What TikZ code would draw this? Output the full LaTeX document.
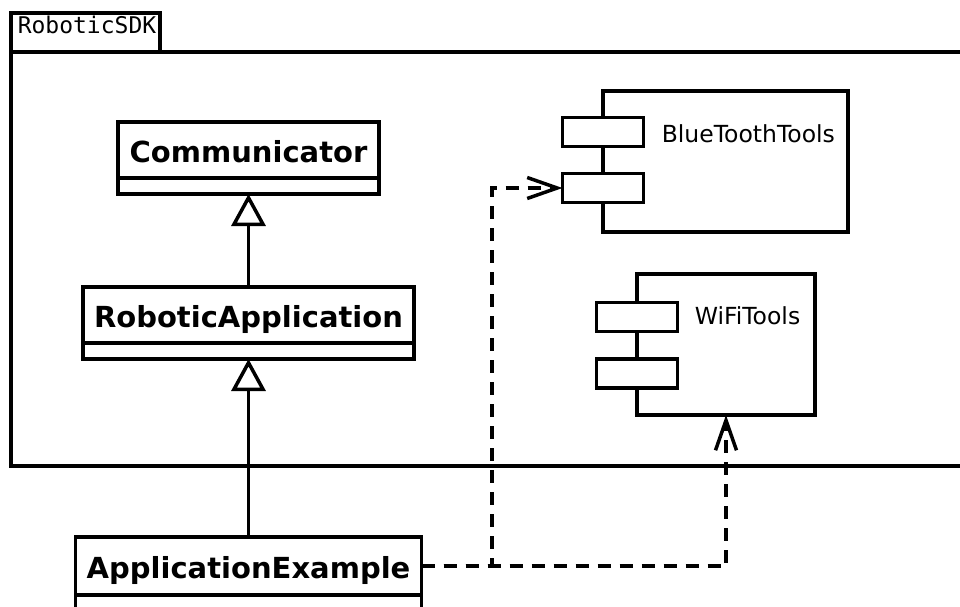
\documentclass[tikz,border=0pt]{standalone}
\usepackage{fontspec}
\usetikzlibrary{arrows.meta,positioning}
\newfontfamily\umlsans{DejaVu Sans}
\newfontfamily\umlmono{DejaVu Sans Mono}

\begin{document}
\begin{tikzpicture}[x=1pt,y=-1pt,line width=3.5pt,line join=miter,
    classhead/.style={draw,fill=white,outer sep=0pt,inner sep=0pt,minimum height=56pt,
      text height=24pt,text depth=0pt,font=\umlsans\bfseries\fontsize{29}{34}\selectfont},
    classbody/.style={draw,fill=white,outer sep=0pt,inner sep=0pt,minimum height=16pt},
    comp/.style={draw,fill=white,outer sep=0pt,inner sep=0pt,minimum height=141pt},
    port/.style={draw,fill=white,outer sep=0pt,inner sep=0pt,minimum width=81pt,minimum height=29pt},
    complabel/.style={anchor=base west,inner sep=0pt,font=\umlsans\fontsize{23.5}{27}\selectfont},
    inherit/.style={-{Triangle[open,length=32pt,width=34pt]}},
    dep/.style={dash pattern=on 13pt off 9pt,-{Straight Barb[length=30pt,width=21pt]}}]
	\useasboundingbox (0,0) rectangle (960,606);
	\clip (0,0) rectangle (960,606);
	% package frame with its tab
	\draw (11,52) rectangle (980,466);
	\draw (11,13) rectangle (160,52);
	\node[anchor=base west,inner sep=0pt,font=\umlmono\fontsize{23}{26}\selectfont] (sdk) at (16,33) {RoboticSDK};
	% components
	\node[comp,minimum width=245pt] (bt) at (725.5,161.5) {};
	\node[port] (btup) at ([yshift=29.5pt]bt.west) {};
	\node[port] (btlow) at ([yshift=-26.5pt]bt.west) {};
	\node[complabel] (btlabel) at ([xshift=57pt,yshift=-51pt]bt.north west) {BlueToothTools};
	\node[comp,minimum width=178pt] (wifi) at (726,344.5) {};
	\node[port] (wifiup) at ([yshift=27.5pt]wifi.west) {};
	\node[port] (wifilow) at ([yshift=-29pt]wifi.west) {};
	\node[complabel] (wifilabel) at ([xshift=56pt,yshift=-50pt]wifi.north west) {WiFiTools};
	% classes
	\node[classhead,minimum width=261pt] (comm) at (248.5,150) {Communicator};
	\node[classbody,minimum width=261pt,below=0pt of comm] (commbody) {};
	\node[classhead,minimum width=331pt] (robapp) at (248.5,315) {RoboticApplication};
	\node[classbody,minimum width=331pt,below=0pt of robapp] (robappbody) {};
	\node[classhead,minimum width=346pt,minimum height=58pt] (appex) at (248.5,566) {ApplicationExample};
	\node[classbody,minimum width=346pt,minimum height=30pt,below=0pt of appex] (appexbody) {};
	% generalizations
	\draw[inherit] (robapp.north) -- (robapp.north |- commbody.south);
	\draw[inherit] (appex.north) -- (appex.north |- robappbody.south);
	% dependencies
	\coordinate (btbend) at (492,188);
	\draw[dep] (appex.east) -| (btbend) -- (btlow.west);
	\draw[dep] (appex.east) -| (wifi.south);
\end{tikzpicture}
\end{document}
